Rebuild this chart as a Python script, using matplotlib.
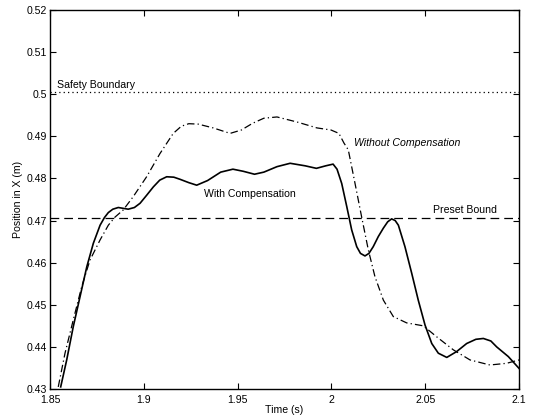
import numpy as np
import matplotlib.pyplot as plt

plt.rcParams['font.family'] = ['Liberation Sans', 'DejaVu Sans']

# response with compensation
t_comp = [1.8557, 1.8589, 1.8624, 1.8660, 1.8696, 1.8731, 1.8767, 1.8790,
          1.8811, 1.8835, 1.8864, 1.8890, 1.8917, 1.8950, 1.8980, 1.9015,
          1.9051, 1.9085, 1.9122, 1.9160, 1.9193, 1.9240, 1.9282, 1.9340,
          1.9410, 1.9475, 1.9530, 1.9590, 1.9640, 1.9710, 1.9780, 1.9860,
          1.9920, 1.9970, 2.0009, 2.0030, 2.0055, 2.0082, 2.0108, 2.0135,
          2.0155, 2.0179, 2.0200, 2.0223, 2.0250, 2.0277, 2.0300, 2.0321,
          2.0340, 2.0357, 2.0392, 2.0428, 2.0463, 2.0499, 2.0535, 2.0570,
          2.0615, 2.0668, 2.0721, 2.0770, 2.0810, 2.0850, 2.0881, 2.0943,
          2.1000]
x_comp = [0.4305, 0.4369, 0.4448, 0.4519, 0.4590, 0.4646, 0.4689, 0.4707,
          0.4719, 0.4727, 0.4731, 0.4729, 0.4727, 0.4731, 0.4741, 0.4760,
          0.4780, 0.4796, 0.4804, 0.4803, 0.4798, 0.4790, 0.4784, 0.4795,
          0.4815, 0.4822, 0.4817, 0.4810, 0.4815, 0.4828, 0.4836, 0.4830,
          0.4824, 0.4830, 0.4834, 0.4822, 0.4788, 0.4733, 0.4678, 0.4638,
          0.4622, 0.4616, 0.4622, 0.4638, 0.4662, 0.4682, 0.4697, 0.4704,
          0.4700, 0.4689, 0.4638, 0.4575, 0.4511, 0.4452, 0.4408, 0.4385,
          0.4375, 0.4389, 0.4408, 0.4418, 0.4420, 0.4414, 0.4400, 0.4377,
          0.4349]

# response without compensation
t_nocomp = [1.8544, 1.8580, 1.8624, 1.8669, 1.8713, 1.8767, 1.8811, 1.8846,
            1.8890, 1.8944, 1.9015, 1.9086, 1.9157, 1.9200, 1.9240, 1.9290,
            1.9370, 1.9460, 1.9520, 1.9580, 1.9640, 1.9710, 1.9817, 1.9923,
            1.9998, 2.0040, 2.0067, 2.0090, 2.0126, 2.0161, 2.0197, 2.0232,
            2.0277, 2.0330, 2.0401, 2.0490, 2.0561, 2.0650, 2.0739, 2.0845,
            2.0934, 2.1000]
x_nocomp = [0.4305, 0.4385, 0.4464, 0.4543, 0.4606, 0.4654, 0.4689, 0.4708,
            0.4725, 0.4757, 0.4804, 0.4859, 0.4907, 0.4924, 0.4930, 0.4929,
            0.4920, 0.4907, 0.4915, 0.4931, 0.4943, 0.4946, 0.4934, 0.4920,
            0.4915, 0.4907, 0.4884, 0.4868, 0.4788, 0.4709, 0.4630, 0.4567,
            0.4511, 0.4472, 0.4457, 0.4450, 0.4424, 0.4393, 0.4369, 0.4357,
            0.4361, 0.4369]

preset_bound = 0.4707
safety_boundary = 0.5005

x_ticks = [1.85, 1.9, 1.95, 2.0, 2.05, 2.1]
x_labels = ['1.85', '1.9', '1.95', '2', '2.05', '2.1']
y_ticks = [0.43, 0.44, 0.45, 0.46, 0.47, 0.48, 0.49, 0.5, 0.51, 0.52]
y_labels = ['0.43', '0.44', '0.45', '0.46', '0.47', '0.48', '0.49', '0.5', '0.51', '0.52']

fig = plt.figure(figsize=(5.34, 4.2), dpi=100)
ax = fig.add_axes([50 / 534, 1 - 389 / 420, 469 / 534, 379 / 420])

ax.plot(t_comp, x_comp, color='black', lw=1.2, ls='-')
ax.plot(t_nocomp, x_nocomp, color='black', lw=0.9, ls=(0, (6, 2.5, 1, 2.5)))
ax.axhline(preset_bound, color='black', lw=0.9, ls=(0, (7, 4)))
ax.axhline(safety_boundary, color='black', lw=0.9, ls=(0, (1, 2.5)))

fs = 7.6
ax.text(1.8535, 0.5015, 'Safety Boundary', fontsize=fs)
ax.text(2.0120, 0.4878, 'Without Compensation', fontsize=fs, style='italic')
ax.text(1.9322, 0.4757, 'With Compensation', fontsize=fs)
ax.text(2.0542, 0.4717, 'Preset Bound', fontsize=fs)

ax.set_xlim(1.85, 2.1)
ax.set_ylim(0.43, 0.52)
ax.set_xticks(x_ticks)
ax.set_xticklabels(x_labels)
ax.set_yticks(y_ticks)
ax.set_yticklabels(y_labels)
ax.tick_params(direction='in', top=True, right=True, length=4, width=0.8,
               labelsize=fs)
ax.tick_params(axis='x', pad=4)
ax.tick_params(axis='y', pad=2)
for sp in ax.spines.values():
    sp.set_linewidth(1.0)

ax.set_xlabel('Time (s)', fontsize=fs, labelpad=0)
ax.set_ylabel('Position in X (m)', fontsize=fs, labelpad=3)

fig.savefig('out.png', dpi=100)
